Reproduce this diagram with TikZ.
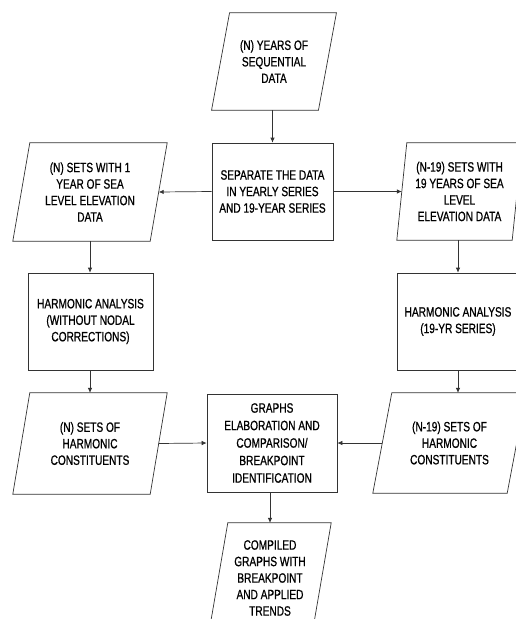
\documentclass[tikz,border=0pt]{standalone}
\usepackage{fontspec}
\setmainfont{Liberation Sans}[FakeStretch=0.75,FakeBold=0.8]
\usetikzlibrary{arrows.meta}
\tikzset{
 txt/.style={inner sep=0pt, align=center, font=\fontsize{13.5}{16.5}\selectfont, text=black},
 boxnode/.style={txt, draw=black!80, line width=0.7pt},
 arr/.style={-{Latex[length=5pt,width=4.5pt]}, draw=black!80, line width=0.7pt},
 outl/.style={draw=black!80, line width=0.7pt},
}
\newcommand\para[7]{%
 \node[txt, minimum width=#4pt, minimum height=#5pt] (#1) at (#2,#3) {#7};
 \draw[outl] ([xshift=-#6pt]#1.south west) -- ([xshift=-#6pt]#1.south east) -- ([xshift=#6pt]#1.north east) -- ([xshift=#6pt]#1.north west) -- cycle;
}
\begin{document}
\begin{tikzpicture}[x=1pt,y=-1pt]
\useasboundingbox[fill=white] (0,0) rectangle (516,619);
\para{n}{274}{61.5}{106.5}{97}{9}{(N) YEARS OF\\SEQUENTIAL\\DATA}
\node[boxnode, minimum width=121pt, minimum height=97pt] (sep) at (272.5,191.5) {SEPARATE THE DATA\\IN YEARLY SERIES\\AND 19-YEAR SERIES};
\para{lp1}{90}{192}{137}{98}{8.5}{(N) SETS WITH 1\\YEAR OF SEA\\LEVEL ELEVATION\\DATA}
\para{rp1}{459.5}{191.5}{115}{97}{5}{(N-19) SETS WITH\\19 YEARS OF SEA\\LEVEL\\ELEVATION DATA}
\node[boxnode, minimum width=125pt, minimum height=97pt] (hl) at (90.5,321.5) {HARMONIC ANALYSIS\\(WITHOUT NODAL\\CORRECTIONS)};
\node[boxnode, minimum width=122pt, minimum height=97pt] (hr) at (458,321.5) {HARMONIC ANALYSIS\\(19-YR SERIES)};
\para{lp2}{90}{443.5}{137}{101}{8.5}{(N) SETS OF\\HARMONIC\\CONSTITUENTS}
\para{rp2}{449.5}{443}{134}{100}{9.5}{(N-19) SETS OF\\HARMONIC\\CONSTITUENTS}
\node[boxnode, minimum width=130pt, minimum height=98pt, font=\fontsize{13.5}{17.5}\selectfont] (g) at (272,443) {GRAPHS\\ELABORATION AND\\COMPARISON/\\BREAKPOINT\\IDENTIFICATION};
\para{bp}{270}{578}{103}{110}{9.5}{\fontsize{13.5}{18}\selectfont COMPILED\\GRAPHS WITH\\BREAKPOINT\\AND APPLIED\\TRENDS}
\draw[arr] (sep.north |- n.south) -- (sep.north);
\draw[arr] (sep.west) -- (lp1.east);
\draw[arr] (sep.east) -- (rp1.west);
\draw[arr] (lp1.south) -- (hl.north -| lp1.south);
\draw[arr] (hr.north |- rp1.south) -- (hr.north);
\draw[arr] (hl.south -| lp2.north) -- (lp2.north);
\draw[arr] (hr.south) -- (hr.south |- rp2.north);
\draw[arr] (lp2.east) -- (g.west);
\draw[arr] (rp2.west) -- (g.east);
\draw[arr] (g.south -| bp.north) -- (bp.north);
\end{tikzpicture}
\end{document}
